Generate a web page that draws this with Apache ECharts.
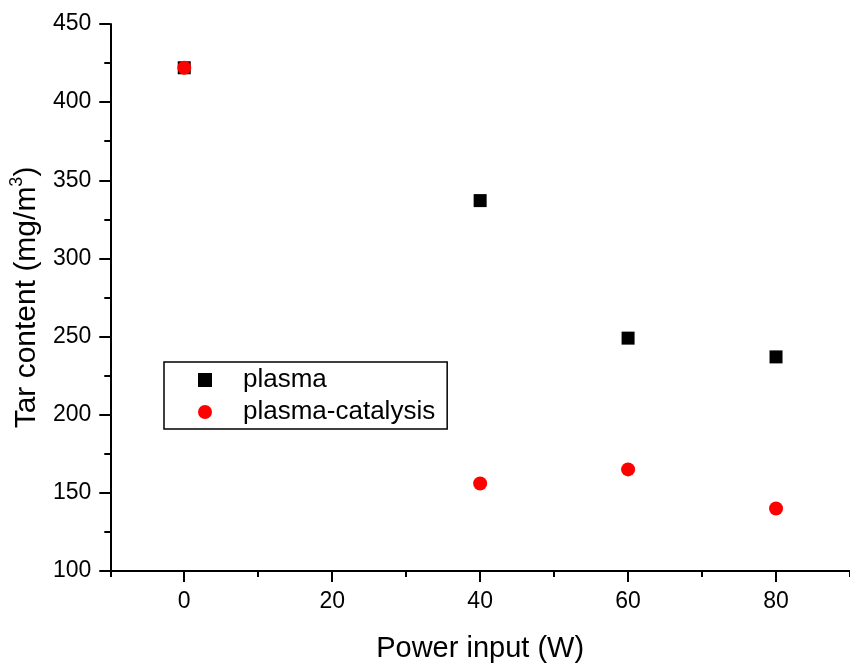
<!DOCTYPE html>
<html><head><meta charset="utf-8">
<script src="https://cdn.jsdelivr.net/npm/echarts@6/dist/echarts.min.js"></script>
<style>html,body{margin:0;padding:0;background:#fff}#c{width:850px;height:668px}</style>
</head><body><div id="c"></div>
<script>
const powerInput = [0, 40, 60, 80];
const plasma = [422, 337, 249, 237];
const plasmaCatalysis = [422, 156, 165, 140];
const seriesNames = ['plasma', 'plasma-catalysis'];
const xMajorTicks = [0, 20, 40, 60, 80];
const xMinorTicks = [-10, 10, 30, 50, 70, 90];

const chart = echarts.init(document.getElementById('c'));
const font = 'Liberation Sans, Arial, sans-serif';
const tickStyle = {width: 2, color: '#000'};
chart.setOption({
  animation: false,
  grid: {left: 110, top: 24, width: 743, height: 548},
  xAxis: [{
    type: 'value', min: -10, max: 90, interval: 10,
    axisLine: {show: true, onZero: false, lineStyle: {color: '#000', width: 2}},
    axisTick: {show: true, length: 11, lineStyle: tickStyle, customValues: xMajorTicks},
    splitLine: {show: false},
    axisLabel: {color: '#000', fontSize: 23, fontFamily: font, margin: 19, customValues: xMajorTicks},
    name: 'Power input (W)', nameLocation: 'middle', nameGap: 63,
    nameTextStyle: {color: '#000', fontSize: 29, fontFamily: font}
  }, {
    type: 'value', min: -10, max: 90, interval: 10, position: 'bottom',
    axisLine: {show: false, onZero: false},
    axisTick: {show: true, length: 6, lineStyle: tickStyle, customValues: xMinorTicks},
    axisLabel: {show: false}, splitLine: {show: false}
  }],
  yAxis: {
    type: 'value', min: 100, max: 450, interval: 50,
    axisLine: {show: true, onZero: false, lineStyle: {color: '#000', width: 2}},
    axisTick: {show: true, length: 11, lineStyle: tickStyle},
    minorTick: {show: true, splitNumber: 2, length: 6, lineStyle: tickStyle},
    splitLine: {show: false},
    axisLabel: {color: '#000', fontSize: 23, fontFamily: font, margin: 19},
    name: '{a|Tar content (mg/m}{s|3}{a|)}', nameLocation: 'middle', nameGap: 65,
    nameTextStyle: {color: '#000', fontSize: 30, fontFamily: font,
      rich: {a: {fontSize: 30, fontFamily: font, color: '#000', verticalAlign: 'bottom', lineHeight: 34},
             s: {fontSize: 18, fontFamily: font, color: '#000', verticalAlign: 'top', lineHeight: 34}}}
  },
  legend: {
    left: 164, top: 362, orient: 'vertical',
    padding: [5, 12, 4, 34], itemGap: 6,
    itemWidth: 14, itemHeight: 14,
    borderColor: '#000', borderWidth: 1.5, borderRadius: 0,
    textStyle: {color: '#000', fontSize: 26, fontFamily: font, padding: [0, 0, 0, 26]},
    data: seriesNames
  },
  series: [
    {name: seriesNames[0], type: 'scatter', symbol: 'rect', symbolSize: 13, xAxisIndex: 0,
     itemStyle: {color: '#000', opacity: 1}, data: powerInput.map((x, i) => [x, plasma[i]])},
    {name: seriesNames[1], type: 'scatter', symbol: 'circle', symbolSize: 14, xAxisIndex: 0,
     itemStyle: {color: '#ff0000', opacity: 1}, data: powerInput.map((x, i) => [x, plasmaCatalysis[i]])}
  ]
});
</script></body></html>
